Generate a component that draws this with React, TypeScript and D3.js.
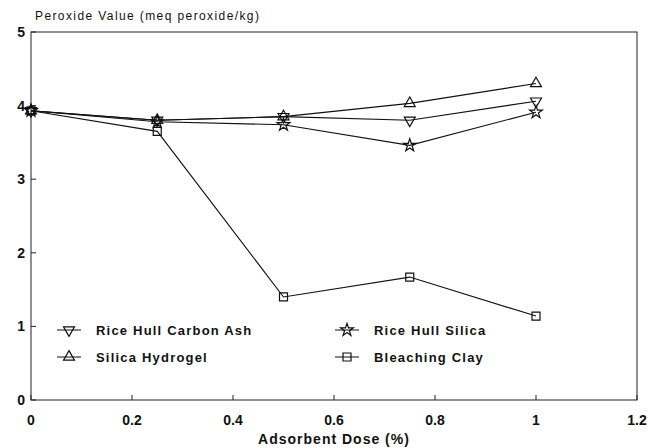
import React, { useEffect, useRef } from 'react'
import * as d3 from 'd3'

// adsorbent dose (%)
const doses = [0, 0.25, 0.5, 0.75, 1]

// peroxide value (meq peroxide/kg) per adsorbent
const riceHullCarbonAsh = [3.93, 3.8, 3.85, 3.8, 4.06]
const silicaHydrogel = [3.93, 3.8, 3.85, 4.03, 4.3]
const riceHullSilica = [3.93, 3.78, 3.74, 3.46, 3.91]
const bleachingClay = [3.93, 3.65, 1.4, 1.67, 1.14]

const xTicks = [0, 0.2, 0.4, 0.6, 0.8, 1, 1.2]
const yTicks = [0, 1, 2, 3, 4, 5]

const series = [
    { name: 'Rice Hull Carbon Ash', values: riceHullCarbonAsh, marker: 'down' },
    { name: 'Silica Hydrogel', values: silicaHydrogel, marker: 'up' },
    { name: 'Rice Hull Silica', values: riceHullSilica, marker: 'star' },
    { name: 'Bleaching Clay', values: bleachingClay, marker: 'square' },
]

const W = 648
const H = 448
const margin = { top: 32, right: 11, bottom: 48, left: 31 }

const markerPath = (type: string) => {
    if (type === 'square') return d3.symbol(d3.symbolSquare, 64)()
    if (type === 'star') return d3.symbol(d3.symbolStar, 50)()
    return d3.symbol(d3.symbolTriangle, 52)()
}

const App = () => {
    const svgRef = useRef<SVGSVGElement>(null)

    useEffect(() => {
        const svg = d3.select(svgRef.current)
        svg.selectAll('*').remove()

        const x = d3.scaleLinear().domain([0, 1.2]).range([margin.left, W - margin.right])
        const y = d3.scaleLinear().domain([0, 5]).range([H - margin.bottom, margin.top])

        const font = 'Arial, "Liberation Sans", Helvetica, sans-serif'

        // frame
        svg.append('rect')
            .attr('x', x(0))
            .attr('y', y(5))
            .attr('width', x(1.2) - x(0))
            .attr('height', y(0) - y(5))
            .attr('fill', 'none')
            .attr('stroke', '#222')
            .attr('stroke-width', 1)

        // x ticks (inward)
        svg.selectAll('.xtick')
            .data(xTicks)
            .enter()
            .append('line')
            .attr('x1', d => x(d))
            .attr('x2', d => x(d))
            .attr('y1', y(0))
            .attr('y2', y(0) - 5)
            .attr('stroke', '#222')

        svg.selectAll('.xlabel')
            .data(xTicks)
            .enter()
            .append('text')
            .attr('x', d => x(d))
            .attr('y', y(0) + 25)
            .attr('text-anchor', 'middle')
            .attr('font-family', font)
            .attr('font-size', 14)
            .attr('font-weight', 'bold')
            .attr('fill', '#111')
            .text(d => String(d))

        // y ticks (inward)
        svg.selectAll('.ytick')
            .data(yTicks)
            .enter()
            .append('line')
            .attr('x1', x(0))
            .attr('x2', x(0) + 5)
            .attr('y1', d => y(d))
            .attr('y2', d => y(d))
            .attr('stroke', '#222')

        svg.selectAll('.ylabel')
            .data(yTicks)
            .enter()
            .append('text')
            .attr('x', x(0) - 6)
            .attr('y', d => y(d) + 5)
            .attr('text-anchor', 'end')
            .attr('font-family', font)
            .attr('font-size', 14)
            .attr('font-weight', 'bold')
            .attr('fill', '#111')
            .text(d => String(d))

        // titles
        svg.append('text')
            .attr('x', 35)
            .attr('y', 20)
            .attr('font-family', font)
            .attr('font-size', 12)
            .attr('letter-spacing', 1.4)
            .attr('fill', '#111')
            .text('Peroxide Value (meq peroxide/kg)')

        svg.append('text')
            .attr('x', (x(0) + x(1.2)) / 2)
            .attr('y', 444)
            .attr('text-anchor', 'middle')
            .attr('font-family', font)
            .attr('font-size', 14)
            .attr('font-weight', 'bold')
            .attr('letter-spacing', 1)
            .attr('fill', '#111')
            .text('Adsorbent Dose (%)')

        // lines
        const line = d3.line<number>()
            .x((_, i) => x(doses[i]))
            .y(d => y(d))

        series.forEach(s => {
            svg.append('path')
                .attr('d', line(s.values))
                .attr('fill', 'none')
                .attr('stroke', '#111')
                .attr('stroke-width', 1.1)

            svg.selectAll(null)
                .data(s.values)
                .enter()
                .append('path')
                .attr('d', markerPath(s.marker))
                .attr('transform', (d, i) => `translate(${x(doses[i])},${y(d)})${s.marker === 'down' ? ' rotate(180)' : ''}`)
                .attr('fill', 'none')
                .attr('stroke', '#111')
                .attr('stroke-width', 1.2)
        })

        // legend
        const legendPos = [
            { x: 57, y: 330 },
            { x: 57, y: 357 },
            { x: 335, y: 330 },
            { x: 335, y: 357 },
        ]

        series.forEach((s, i) => {
            const p = legendPos[i]
            const g = svg.append('g').attr('transform', `translate(${p.x},${p.y})`)
            g.append('line')
                .attr('x1', 0)
                .attr('x2', 24)
                .attr('stroke', '#111')
            g.append('path')
                .attr('d', markerPath(s.marker))
                .attr('transform', `translate(12,0)${s.marker === 'down' ? ' rotate(180)' : ''}`)
                .attr('fill', 'none')
                .attr('stroke', '#111')
                .attr('stroke-width', 1.2)
            g.append('text')
                .attr('x', 39)
                .attr('y', 5)
                .attr('font-family', font)
                .attr('font-size', 13)
                .attr('font-weight', 'bold')
                .attr('letter-spacing', 1.2)
                .attr('fill', '#111')
                .text(s.name)
        })
    }, [])

    return (
        <svg
            ref={svgRef}
            width={W}
            height={H}
            style={{ position: 'absolute', left: 0, top: 0, background: '#fff' }}
        ></svg>
    )
}

export default App
